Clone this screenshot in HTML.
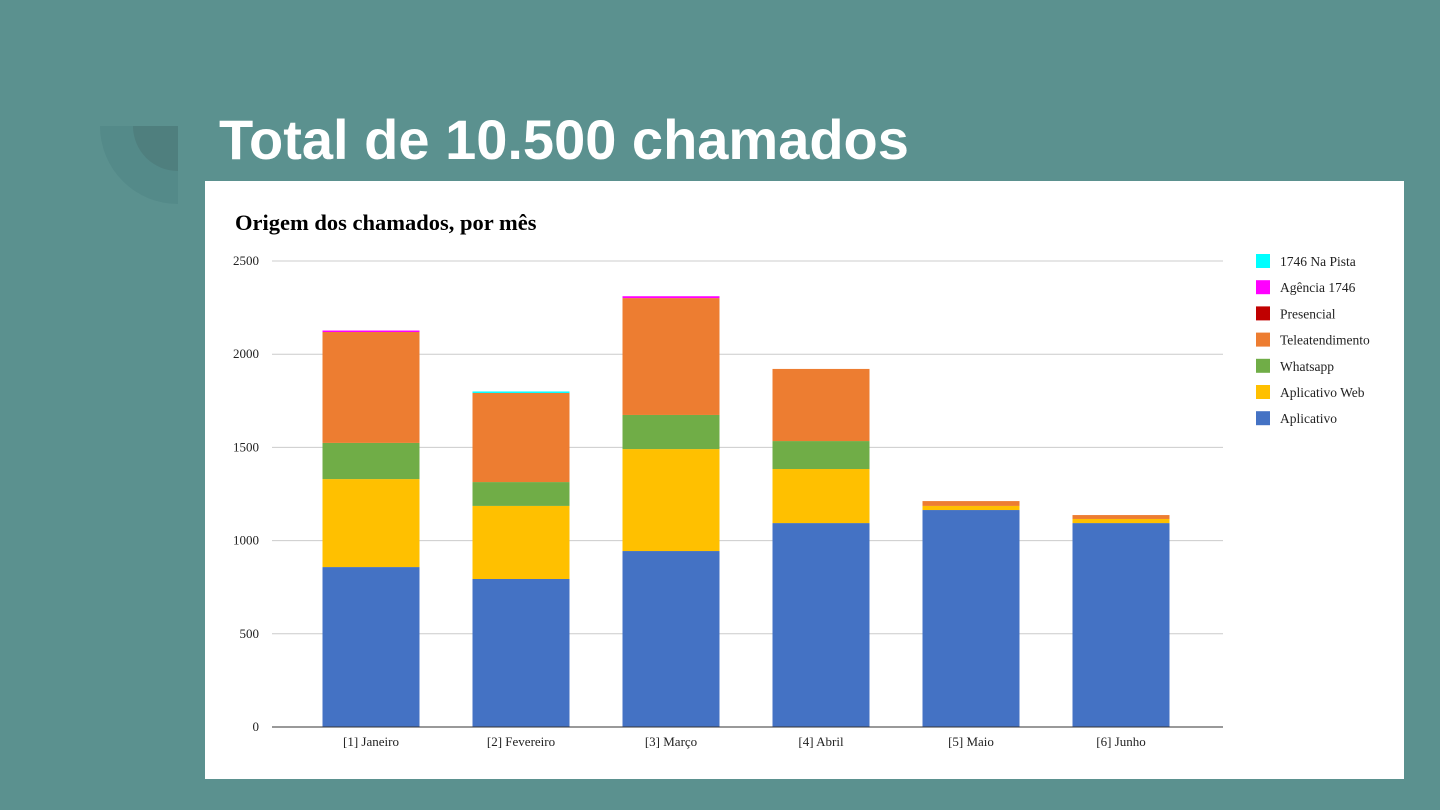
<!DOCTYPE html>
<html><head><meta charset="utf-8"><style>
body{margin:0;width:1440px;height:810px;background:#5b918f;position:relative;overflow:hidden;font-family:"Liberation Sans",sans-serif}
#title{position:absolute;left:219px;top:112px;font-size:56px;line-height:1;font-weight:bold;color:#fff;font-family:"Liberation Sans",sans-serif;white-space:nowrap}
#card{position:absolute;left:205px;top:181px;width:1199px;height:598px;background:#fff}
</style></head><body>
<svg style="position:absolute;left:0;top:0" width="200" height="220">
<path d="M100 126 L178 126 L178 204 A78 78 0 0 1 100 126 Z" fill="#548a89"/>
<path d="M133 126 L178 126 L178 171 A45 45 0 0 1 133 126 Z" fill="#4f7f7e"/>
</svg>
<div id="title">Total de 10.500 chamados</div>
<div id="card">
<svg id="chart" width="1199" height="598" style="font-family:'Liberation Serif',serif"></svg>
</div>
<script>
const categories=["[1] Janeiro","[2] Fevereiro","[3] Março","[4] Abril","[5] Maio","[6] Junho"];
const seriesNames=["Aplicativo","Aplicativo Web","Whatsapp","Teleatendimento","Presencial","Agência 1746","1746 Na Pista"];
const colors=["#4472c4","#ffc000","#70ad47","#ed7d31","#c00000","#ff00ff","#00ffff"];
const aplicativo=[858,794,944,1094,1164,1094];
const aplicativoWeb=[472,392,547,290,22,22];
const whatsapp=[194,128,183,150,0,0];
const teleatendimento=[595,478,627,387,26,21];
const presencial=[0,0,0,0,0,0];
const agencia=[8,0,10,0,0,0];
const naPista=[0,8,0,0,0,0];
const yTicks=[0,500,1000,1500,2000,2500];
const series=[aplicativo,aplicativoWeb,whatsapp,teleatendimento,presencial,agencia,naPista];
const svg=document.getElementById('chart');const NS='http://www.w3.org/2000/svg';
const ox=205,oy=181;
const y0=727-oy,y1=261-oy,yMax=2500;
const y=v=>y0-(v/yMax)*(y0-y1);
const plotL=272-ox,plotR=1223-ox,step=150,bw=97,firstC=371-ox;
const x=i=>firstC+i*step;
function mk(t,a){const e=document.createElementNS(NS,t);for(const k in a)e.setAttribute(k,a[k]);svg.appendChild(e);return e;}
let t=mk('text',{x:30,y:49,'font-size':22.5,'font-weight':'bold',fill:'#000'});t.textContent='Origem dos chamados, por mês';


yTicks.forEach(v=>{
 const l=mk('line',{x1:plotL,x2:plotR,y1:y(v),y2:y(v),stroke:v?'#cccccc':'#333',"stroke-width":1});
 
 
 const tx=mk('text',{x:plotL-13,y:y(v)+4,'text-anchor':'end','font-size':13,fill:'#222'});tx.textContent=v;
 
 
});
categories.forEach((c,i)=>{
 let acc=0;
 series.forEach((s,j)=>{
  const v=s[i];if(!v)return;
  const r=mk('rect',{x:x(i)-bw/2,y:y(acc+v),width:bw,height:y(acc)-y(acc+v),fill:colors[j]});
  
  
  acc+=v;
 });
 const tx=mk('text',{x:x(i),y:y0+19,'text-anchor':'middle','font-size':13,fill:'#222'});tx.textContent=c;
 
 
});
mk('line',{x1:plotL,x2:plotR,y1:y0,y2:y0,stroke:'#333'});
for(let k=0;k<7;k++){
 const j=6-k,ly=80+k*26.2;
 const r=mk('rect',{x:1051,y:ly-7,width:14,height:14,fill:colors[j]});
 
 
 const tx=mk('text',{x:1075,y:ly+5,'font-size':13.5,fill:'#222'});tx.textContent=seriesNames[j];
 
 
}
</script>
</body></html>
